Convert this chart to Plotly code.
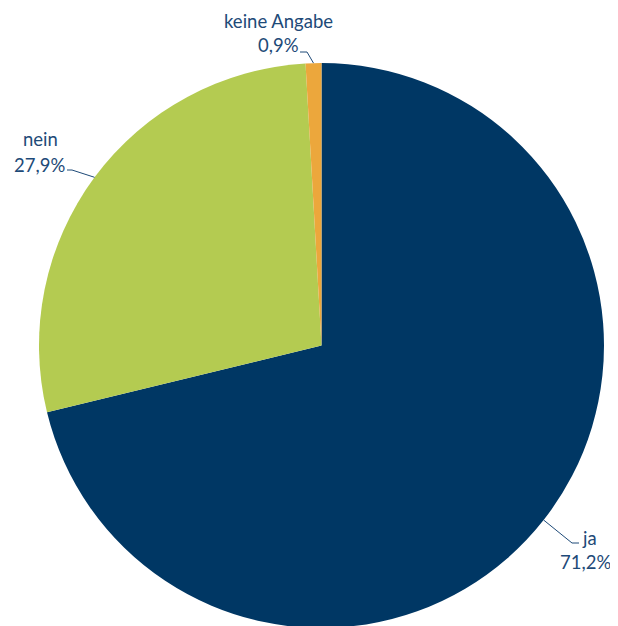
import math
import plotly.graph_objects as go

# Data
categories = ["ja", "nein", "keine Angabe"]
values = [71.2, 27.9, 0.9]
value_labels = ["71,2%", "27,9%", "0,9%"]

colors = ["#003764", "#B4CB51", "#ECA73C"]
text_color = "#1E4A78"

W, H = 618, 626
OFF = 8  # page body margin offset of the figure

# desired pie geometry in screen pixels
PCX, PCY, PR = 321.5, 345.5, 282.5

fcx, fcy = PCX - OFF, PCY - OFF
dom_y = [(H - fcy - PR) / H, (H - fcy + PR) / H]
half_x = (PR + 4) / W
dom_x = [fcx / W - half_x, fcx / W + half_x]

fig = go.Figure(go.Pie(
    labels=categories,
    values=values,
    sort=False,
    direction="clockwise",
    rotation=0,
    textinfo="none",
    hoverinfo="label+percent",
    marker=dict(colors=colors, line=dict(width=0)),
    domain=dict(x=dom_x, y=dom_y),
    showlegend=False,
))

# pie geometry in screen pixels as computed from the domain
cx = (dom_x[0] + dom_x[1]) / 2 * W + OFF
cy = H - (dom_y[0] + dom_y[1]) / 2 * H + OFF
r = min((dom_x[1] - dom_x[0]) * W, (dom_y[1] - dom_y[0]) * H) / 2

def px(x, y):
    return (x - OFF) / W, 1 - (y - OFF) / H

# label layout in screen pixels
label_layout = {
    "keine Angabe": dict(cx1=278, cx2=278, b1=28, b2=52, elbow=(307, 52), end=(300, 52)),
    "nein": dict(cx1=40, cx2=39, b1=146, b2=172, elbow=(72, 170), end=(67, 170)),
    "ja": dict(cx1=589, cx2=585, b1=545, b2=569, elbow=(572, 543), end=(579, 543)),
}

total = sum(values)
cum = 0
annotations = []
shapes = []
for cat, val, lab in zip(categories, values, value_labels):
    mid = (cum + val / 2) / total * 2 * math.pi
    cum += val
    ex = cx + r * math.sin(mid)
    ey = cy - r * math.cos(mid)
    L = label_layout[cat]
    for txt, base, lx in ((cat, L["b1"], L["cx1"]), (lab, L["b2"], L["cx2"])):
        xx, yy = px(lx, base - 7)
        annotations.append(dict(
            x=xx, y=yy, xref="paper", yref="paper", text=txt, showarrow=False,
            xanchor="center", yanchor="middle",
            font=dict(family="Lato", size=18.5, color=text_color),
        ))
    p0 = px(ex, ey)
    p1 = px(*L["elbow"])
    p2 = px(*L["end"])
    shapes.append(dict(
        type="path", xref="paper", yref="paper",
        path=f"M {p0[0]},{p0[1]} L {p1[0]},{p1[1]} L {p2[0]},{p2[1]}",
        line=dict(color=text_color, width=1),
    ))

fig.update_layout(
    width=W, height=H,
    margin=dict(l=0, r=0, t=0, b=0),
    paper_bgcolor="white",
    plot_bgcolor="white",
    annotations=annotations,
    shapes=shapes,
)

fig.write_html("out.html")
